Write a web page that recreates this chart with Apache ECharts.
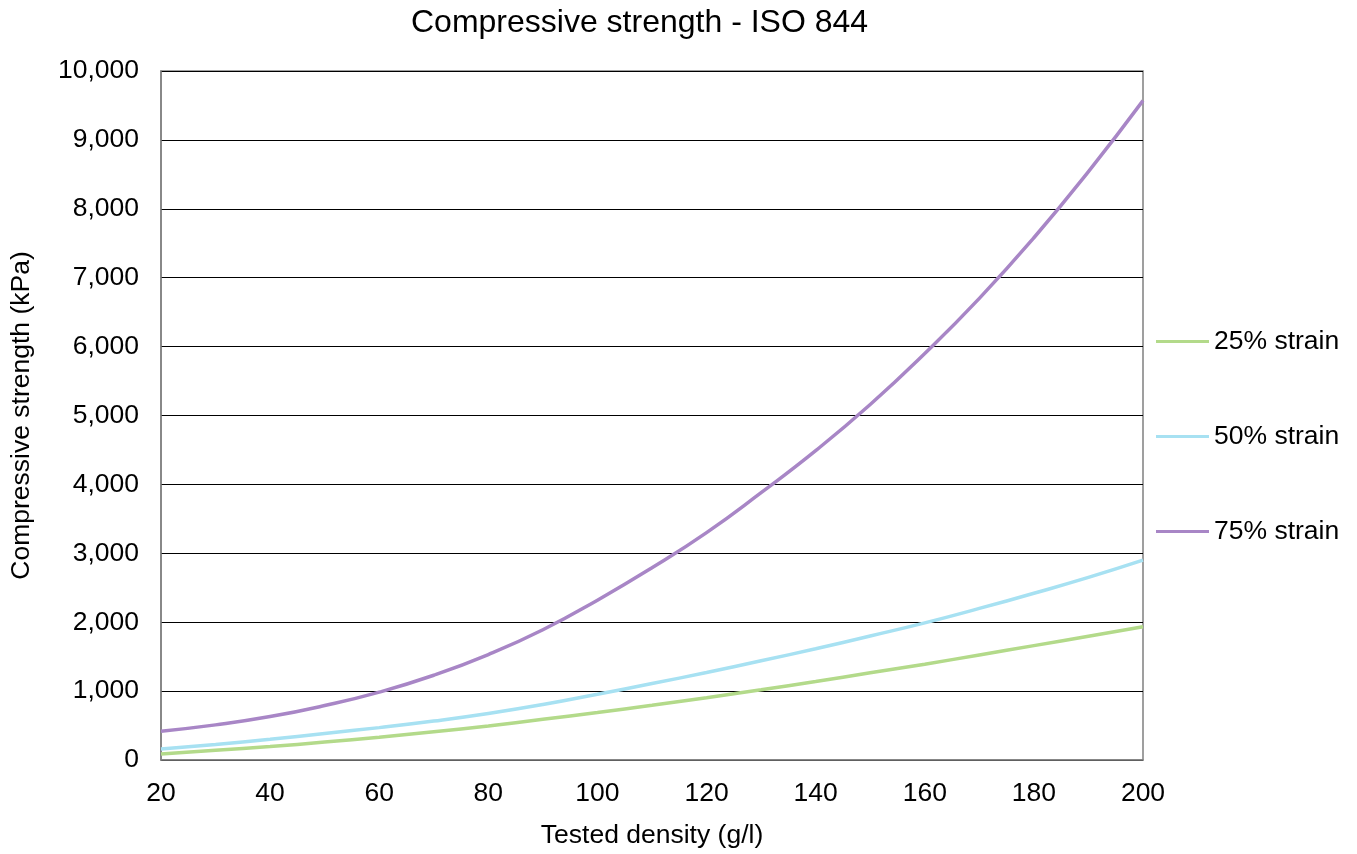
<!DOCTYPE html>
<html>
<head>
<meta charset="utf-8">
<script src="https://cdn.jsdelivr.net/npm/echarts@6/dist/echarts.min.js"></script>
<style>
html,body{margin:0;padding:0;background:#fff;}
#c{width:1357px;height:854px;}
</style>
</head>
<body>
<div id="c"></div>
<script>
const density = [20,30,40,50,60,70,80,90,100,110,120,130,140,150,160,170,180,190,200];
const strain25 = [87,140,195,260,330,410,495,590,690,795,905,1020,1140,1265,1390,1525,1660,1795,1935];
const strain50 = [159,225,300,385,470,565,675,805,955,1110,1270,1440,1615,1800,1990,2200,2420,2650,2900];
const strain75 = [418,510,630,790,985,1230,1530,1890,2320,2790,3300,3880,4490,5160,5900,6700,7580,8540,9570];
const seriesNames = ['25% strain','50% strain','75% strain'];
const seriesColors = ['#b3da8a','#a7e1f2','#a886c6'];
const seriesValues = [strain25, strain50, strain75];

const font = 'Liberation Sans, Arial, sans-serif';
const fs = 26.5;
const chart = echarts.init(document.getElementById('c'));
chart.setOption({
  animation:false,
  backgroundColor:'#fff',
  title:{
    text:'Compressive strength - ISO 844',
    left:406, top:2,
    textStyle:{fontFamily:font,fontSize:32,fontWeight:'normal',color:'#000'}
  },
  grid:{left:160,right:214,top:71,bottom:89,show:true,borderColor:'#808080',borderWidth:1.5},
  legend:{
    orient:'vertical', left:1151, top:323,
    icon:'rect', itemWidth:53, itemHeight:3, itemGap:68,
    textStyle:{fontFamily:font,fontSize:fs,color:'#000',lineHeight:26},
    data:seriesNames
  },
  xAxis:{
    type:'value', min:20, max:200, interval:20,
    name:'Tested density (g/l)', nameLocation:'middle', nameGap:62,
    nameTextStyle:{fontFamily:font,fontSize:fs,color:'#000'},
    axisLine:{show:true,lineStyle:{color:'#808080',width:1.5}},
    axisTick:{show:false},
    axisLabel:{fontFamily:font,fontSize:fs,color:'#000',margin:20},
    splitLine:{show:false}
  },
  yAxis:{
    type:'value', min:0, max:10000, interval:1000,
    name:'Compressive strength (kPa)', nameLocation:'middle', nameGap:126,
    nameTextStyle:{fontFamily:font,fontSize:fs,color:'#000'},
    axisLine:{show:true,lineStyle:{color:'#808080',width:1.5}},
    axisTick:{show:false},
    axisLabel:{fontFamily:font,fontSize:fs,color:'#000',margin:22,
      formatter:v=>v.toLocaleString('en-US')},
    splitLine:{show:true,lineStyle:{color:'#000',width:1}}
  },
  series: seriesNames.map((n,i)=>({
    name:n, type:'line', smooth:true, symbol:'none',
    data: density.map((d,j)=>[d, seriesValues[i][j]]),
    lineStyle:{color:seriesColors[i],width:3.5},
    itemStyle:{color:seriesColors[i]}
  }))
});
</script>
</body>
</html>
